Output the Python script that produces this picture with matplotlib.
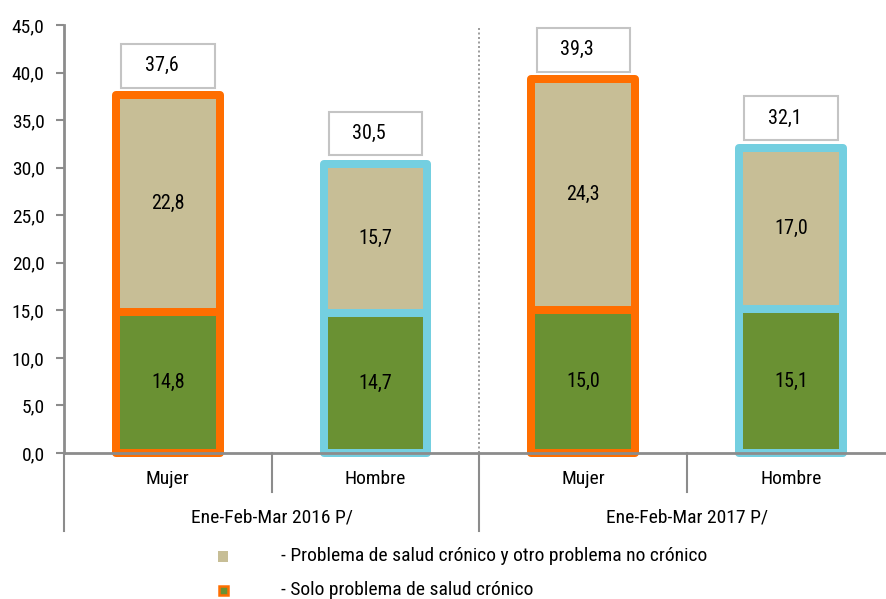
import matplotlib
matplotlib.use("Agg")
import matplotlib.pyplot as plt
from matplotlib.patches import Rectangle
from matplotlib import font_manager

# ---- data ----
categories = ["Mujer", "Hombre", "Mujer", "Hombre"]
periods = ["Ene-Feb-Mar 2016 P/", "Ene-Feb-Mar 2017 P/"]
solo_cronico = [14.8, 14.7, 15.0, 15.1]
cronico_y_otro = [22.8, 15.7, 24.3, 17.0]
totales = [37.6, 30.5, 39.3, 32.1]
yticks = [0, 5, 10, 15, 20, 25, 30, 35, 40, 45]
legend_labels = ["- Problema de salud crónico y otro problema no crónico",
                 "- Solo problema de salud crónico"]

# ---- style ----
names = {f.name for f in font_manager.fontManager.ttflist}
cands = ["Nimbus Sans Narrow", "Liberation Sans Narrow", "Arial Narrow",
         "Roboto Condensed", "Archivo Narrow", "PT Sans Narrow", "Liberation Sans"]
fam = [c for c in cands if c in names][:1]
plt.rcParams["font.family"] = fam + ["DejaVu Sans"]

C_TAN = "#C7BE96"
C_GREEN = "#6A9133"
C_ORANGE = "#FF6E00"
C_BLUE = "#74CFE0"
C_AXIS = "#8C8C8C"
edge_cols = [C_ORANGE, C_BLUE, C_ORANGE, C_BLUE]

W, H = 886, 599
fig = plt.figure(figsize=(W / 100, H / 100), dpi=100)
ax_left, ax_bottom_px, ax_top_px = 64, 453, 25
ax = fig.add_axes([ax_left / W, (H - ax_bottom_px) / H,
                   (W - ax_left) / W, (ax_bottom_px - ax_top_px) / H])

x = list(range(len(categories)))
lw_pt = 8 * 72 / 100
b1 = ax.bar(x, solo_cronico, width=0.5, color=C_GREEN, edgecolor=edge_cols,
            linewidth=lw_pt, clip_on=False, zorder=2)
b2 = ax.bar(x, cronico_y_otro, bottom=solo_cronico, width=0.5, color=C_TAN,
            edgecolor=edge_cols, linewidth=lw_pt, clip_on=False, zorder=2)
for p in list(b1) + list(b2):
    p.set_joinstyle("round")

fs = 14.5
for i in x:
    ax.text(i, solo_cronico[i] / 2, f"{solo_cronico[i]:.1f}".replace(".", ","),
            ha="center", va="center", fontsize=fs, zorder=4)
    ax.text(i, solo_cronico[i] + cronico_y_otro[i] / 2,
            f"{cronico_y_otro[i]:.1f}".replace(".", ","),
            ha="center", va="center", fontsize=fs, zorder=4)
    # total label box
    bw, bh, gap = 0.45, 4.6, 0.8
    yb = totales[i] + gap
    ax.add_patch(Rectangle((i - bw / 2, yb), bw, bh, facecolor="white",
                           edgecolor="#C4C4C4", linewidth=1.5, zorder=3,
                           clip_on=False))
    ax.text(i - 0.03, yb + bh / 2, f"{totales[i]:.1f}".replace(".", ","),
            ha="center", va="center", fontsize=fs, zorder=4)

ax.set_xlim(-0.5, -0.5 + (W - ax_left) / 207.7)
ax.set_ylim(0, 45)
ax.set_yticks(yticks)
ax.set_yticklabels([f"{v:.1f}".replace(".", ",") for v in yticks], fontsize=14)
ax.tick_params(axis="y", length=6, width=1.5, color=C_AXIS, pad=8)
ax.set_xticks([])

for s in ["top", "right"]:
    ax.spines[s].set_visible(False)
for s in ["left", "bottom"]:
    ax.spines[s].set_color(C_AXIS)
    ax.spines[s].set_linewidth(2)
    ax.spines[s].set_zorder(5)

# category / period labels below axis
tr = ax.get_xaxis_transform()
axh = ax_bottom_px - ax_top_px
def yax(py):
    return (ax_bottom_px - py) / axh

for i, c in zip(x, categories):
    ax.text(i, yax(479), c, transform=tr, ha="center", va="center", fontsize=14)
for g, pname in enumerate(periods):
    ax.text(2 * g + 0.5, yax(518), pname, transform=tr, ha="center", va="center",
            fontsize=14)

# separators
for sx in [0.5, 2.5]:
    ax.plot([sx, sx], [0, yax(492)], transform=tr, color=C_AXIS, lw=1.5,
            clip_on=False, zorder=1)
for sx in [-0.5, 1.5]:
    ax.plot([sx, sx], [0, yax(531)], transform=tr, color=C_AXIS, lw=1.5,
            clip_on=False, zorder=1)
ax.plot([1.5, 1.5], [0, yax(28)], transform=tr, color="#8C8C8C", lw=1.2,
        ls=(0, (1.2, 1.5)), clip_on=False, zorder=1)

# legend (manual)
def fx(px):
    return px / W
def fy(py):
    return (H - py) / H

ms = 11
fig.add_artist(Rectangle((fx(223 - ms / 2), fy(556 + ms / 2)), ms / W, ms / H,
                         transform=fig.transFigure, facecolor=C_TAN, edgecolor="none"))
fig.add_artist(Rectangle((fx(223 - ms / 2 + 1), fy(590 + ms / 2 - 1)), (ms - 2) / W,
                         (ms - 2) / H, transform=fig.transFigure, facecolor=C_GREEN,
                         edgecolor=C_ORANGE, linewidth=1.8))
fig.text(fx(281), fy(556), legend_labels[0], ha="left", va="center", fontsize=14)
fig.text(fx(281), fy(590), legend_labels[1], ha="left", va="center", fontsize=14)

fig.savefig("out.png", dpi=100, facecolor="white")
